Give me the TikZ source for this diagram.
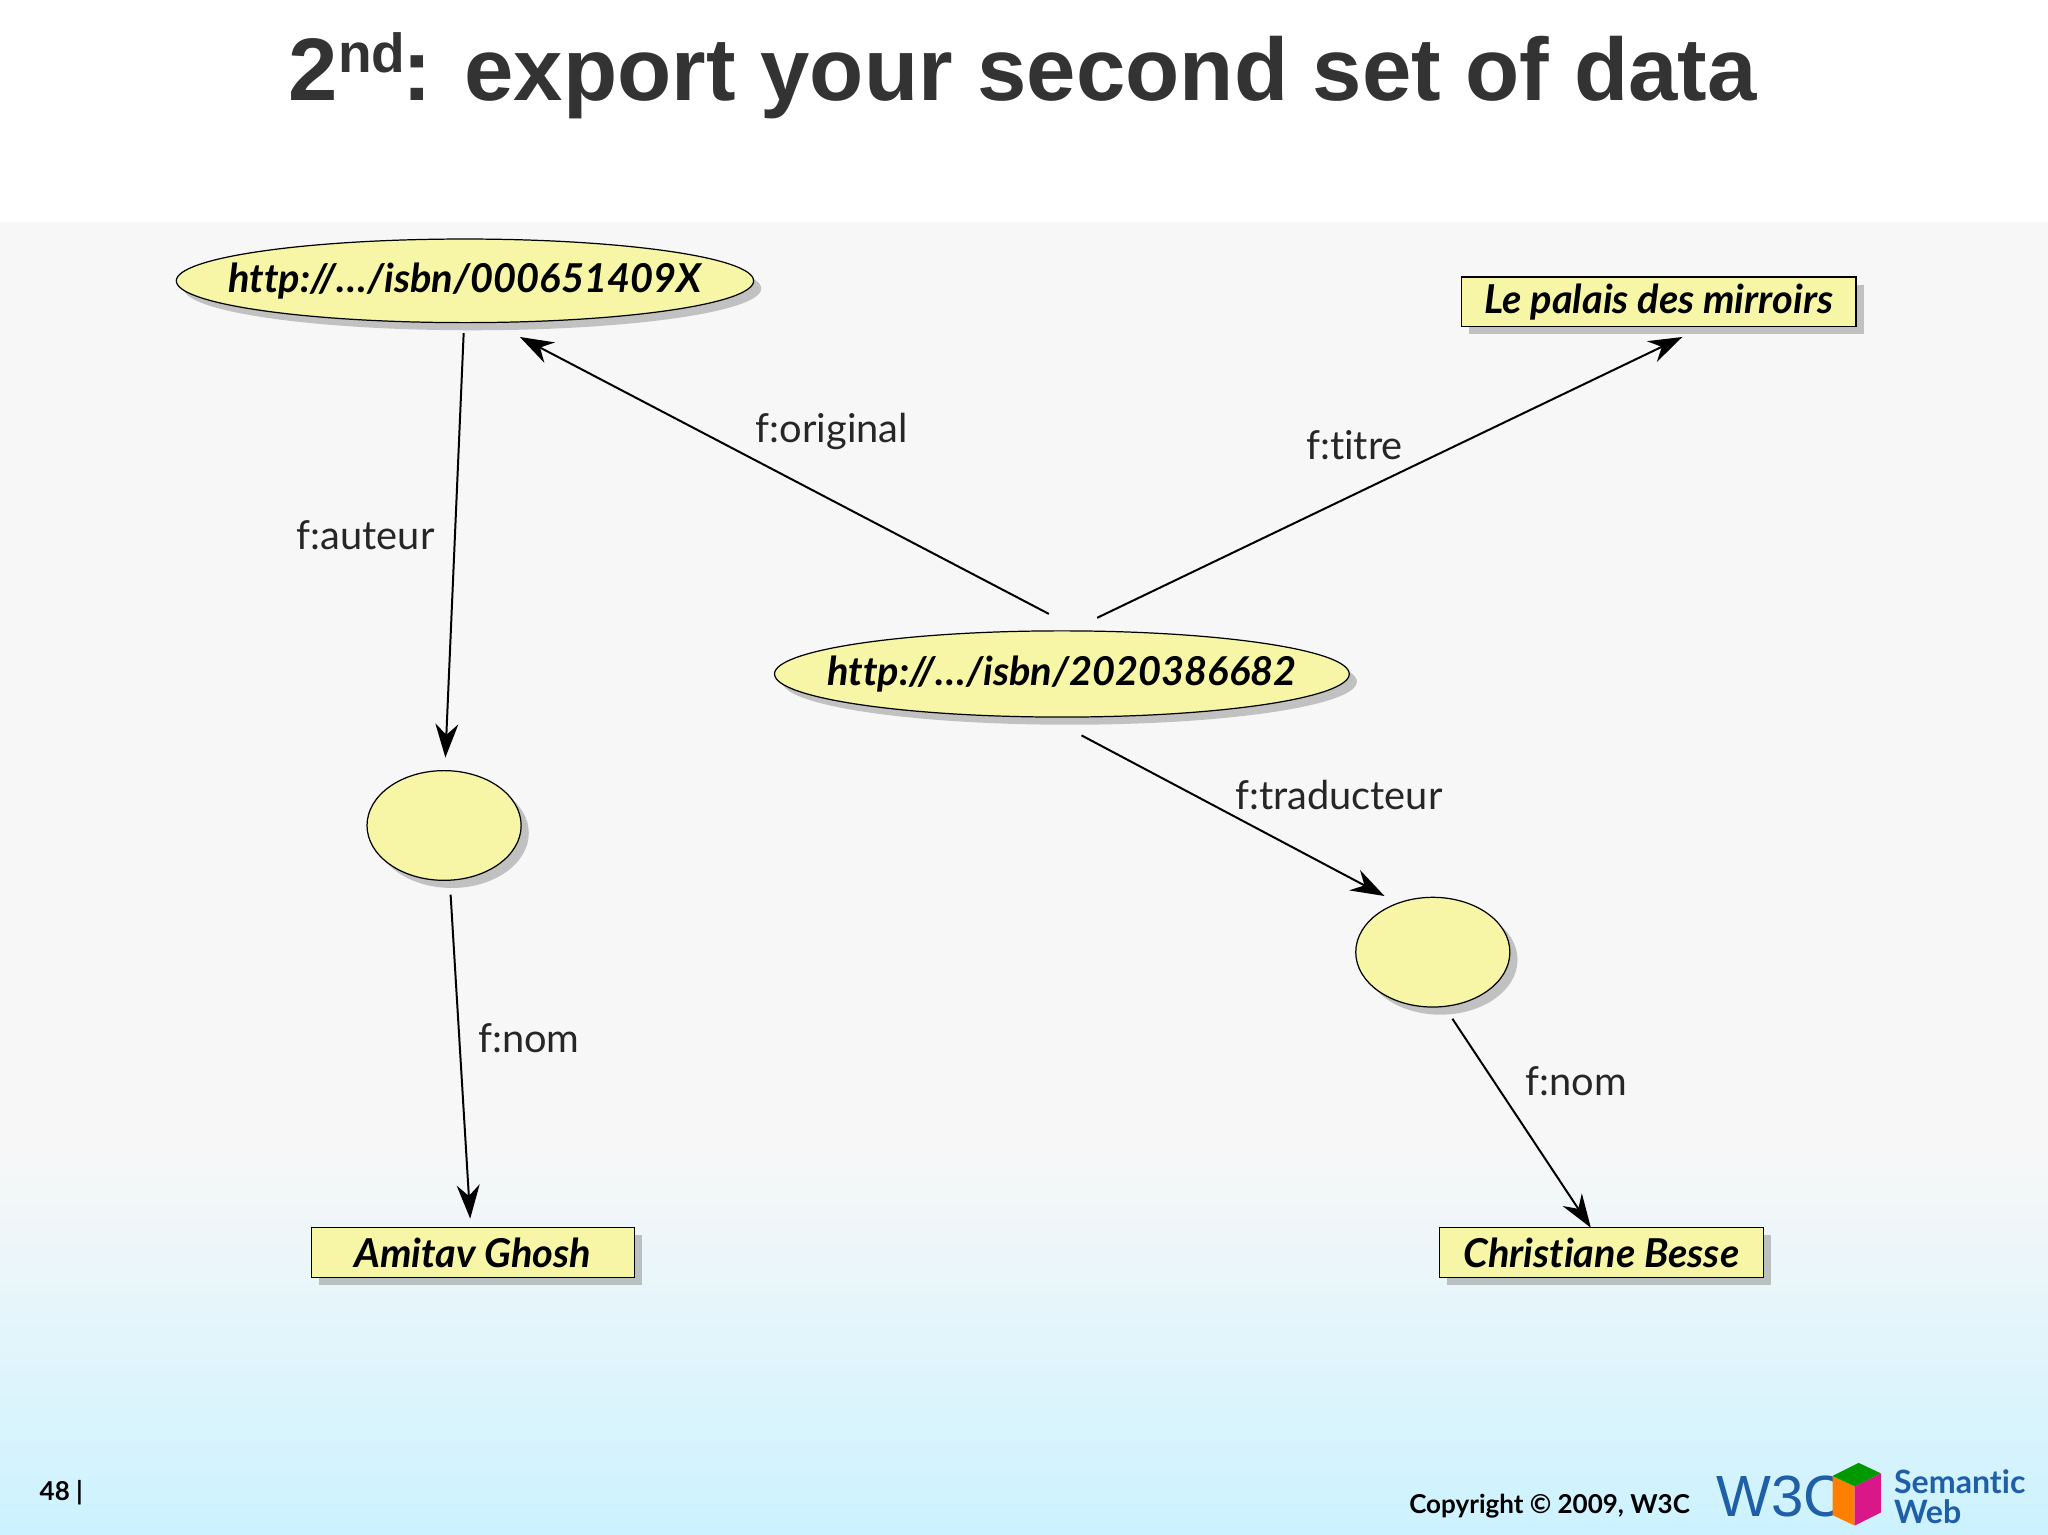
\documentclass[tikz,border=0pt]{standalone}
\usepackage{fontspec}
\setmainfont{Lato}[Ligatures={NoCommon,NoRare}]
\newfontfamily\titlefont{Liberation Sans}
\usetikzlibrary{shapes.geometric,shadows,arrows.meta}
\definecolor{nodey}{HTML}{F6F6A6}
\definecolor{w3cblue}{HTML}{1F5FA8}
\tikzset{
 res/.style={ellipse,draw=black,line width=0.8pt,fill=nodey,drop shadow={shadow xshift=5pt,shadow yshift=-5pt,opacity=.45},inner xsep=-40pt,inner ysep=0pt,font=\fontsize{26}{30}\selectfont\bfseries\itshape},
 blank/.style={ellipse,draw=black,line width=0.8pt,fill=nodey,drop shadow={shadow xshift=5pt,shadow yshift=-5pt,opacity=.45},inner sep=0pt},
 lit/.style={rectangle,draw=black,line width=0.8pt,fill=nodey,drop shadow={shadow xshift=5pt,shadow yshift=-5pt,opacity=.45},inner sep=0pt,font=\fontsize{26}{30}\selectfont\bfseries\itshape},
 arr/.style={-{Stealth[length=22pt,width=15pt]},line width=1.3pt},
 lab/.style={font=\fontsize{26}{28}\selectfont,text=black!85}
}
\begin{document}
\begin{tikzpicture}[x=0.3mm,y=-0.3mm]
\useasboundingbox (0,0) rectangle (1568,1175);
\fill[white] (0,0) rectangle (1568,170);
\fill[black!3] (0,170) rectangle (1568,880);
\shade[top color=black!3,bottom color=blue!25!cyan!20!white] (0,880) rectangle (1568,1175);
\node[font=\titlefont\fontsize{58}{60}\selectfont\bfseries,text=black!80] (title) at (783,58) {2\raisebox{0.6ex}{\fontsize{36}{36}\selectfont nd}\kern-2pt: export your second set of data};
\node[res,minimum width=132.6mm,minimum height=19.2mm] (e1) at (356,215) {http://…/isbn/000651409X};
\node[res,minimum width=132mm,minimum height=19.8mm] (e2) at (813,516) {http://…/isbn/2020386682};
\node[lit,minimum width=90.6mm,minimum height=11.4mm] (pal) at (1270,231) {Le palais des mirroirs};
\node[blank,minimum width=35.4mm,minimum height=25.2mm] (b1) at (340,632) {};
\node[blank,minimum width=35.4mm,minimum height=25.2mm] (b2) at (1097,729) {};
\node[lit,minimum width=74.1mm,minimum height=11.4mm] (ag) at (362,959) {Amitav Ghosh};
\node[lit,minimum width=74.4mm,minimum height=11.4mm] (cb) at (1226,959) {Christiane Besse};
\coordinate (e1b) at (355,255);
\coordinate (b1t) at (341,580);
\coordinate (e2a) at (803,470);
\coordinate (e1r) at (398,258);
\coordinate (e2c) at (840,473);
\coordinate (palb) at (1288,258);
\coordinate (b1b) at (345,685);
\coordinate (agt) at (360,933);
\coordinate (e2d) at (828,563);
\coordinate (b2t) at (1060,686);
\coordinate (b2b) at (1112,780);
\coordinate (cbt) at (1218,940);
\draw[arr] (e1b) -- (b1t);
\draw[arr] (e2a) -- (e1r);
\draw[arr] (e2c) -- (palb);
\draw[arr] (b1b) -- (agt);
\draw[arr] (e2d) -- (b2t);
\draw[arr] (b2b) -- (cbt);
\node[lab] (l1) at (280,410) {f:auteur};
\node[lab] (l2) at (637,330) {f:original};
\node[lab] (l3) at (1037,341) {f:t\kern0pt itre};
\node[lab] (l4) at (405,795) {f:nom};
\node[lab] (l5) at (1025,609) {f:traducteur};
\node[lab] (l6) at (1207,828) {f:nom};
\node[font=\fontsize{17}{18}\selectfont\bfseries] (pg) at (47,1143) {48 |};
\node[font=\fontsize{17}{20}\selectfont\bfseries,anchor=east] (cp) at (1298,1153) {Copyright © 2009, W3C};
\node[font=\titlefont\fontsize{38}{38}\selectfont,text=w3cblue,anchor=west,inner sep=0pt] (w3c) at (1314,1146) {W3C};
\fill[orange] (1403,1130) -- (1420,1138) -- (1420,1168) -- (1403,1160) -- cycle;
\fill[magenta!80!violet] (1420,1138) -- (1440,1128) -- (1440,1158) -- (1420,1168) -- cycle;
\fill[green!60!black] (1403,1130) -- (1423,1120) -- (1440,1128) -- (1420,1138) -- cycle;
\node[font=\fontsize{21}{20}\selectfont\bfseries,text=w3cblue,align=left,anchor=west] (sw) at (1446,1146) {Semantic\\Web};
\end{tikzpicture}
\end{document}
